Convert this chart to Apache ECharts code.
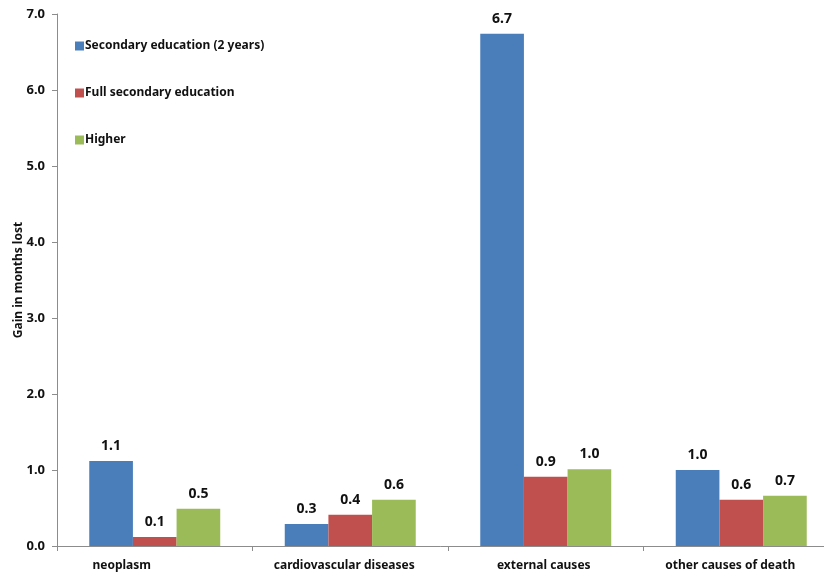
<!DOCTYPE html>
<html>
<head>
<meta charset="utf-8">
<style>
  html, body { margin: 0; padding: 0; background: #fff; }
  #chart { width: 824px; height: 572px; }
</style>
<script src="https://cdn.jsdelivr.net/npm/echarts@6/dist/echarts.min.js"></script>
</head>
<body>
<div id="chart"></div>
<script>
// Causes of death on the category axis
const categories = ['neoplasm', 'cardiovascular diseases', 'external causes', 'other causes of death'];

// Gain in months of life lost, by education level
const seriesNames = ['Secondary education (2 years)', 'Full secondary education', 'Higher'];
const secondary2y = [1.12, 0.29, 6.74, 1.00];
const fullSecondary = [0.12, 0.41, 0.91, 0.61];
const higher = [0.49, 0.61, 1.01, 0.66];

// leftward nudge (px) of each category label from its band centre
const labelNudge = [33, 6, 2, 11];

const colors = ['#4a7ebb', '#c0504d', '#9bbb59'];
const FONT = '"Noto Sans", "Liberation Sans", sans-serif';
const textColor = '#111';

const chart = echarts.init(document.getElementById('chart'), null, { renderer: 'canvas' });

function barSeries(name, data, color) {
  return {
    name: name,
    type: 'bar',
    data: data,
    barGap: '0%',
    barCategoryGap: '33%',
    itemStyle: { color: color },
    label: {
      show: true,
      position: 'top',
      distance: 8,
      fontFamily: FONT,
      fontWeight: 'bold',
      fontSize: 14,
      color: textColor,
      formatter: p => p.value.toFixed(1)
    }
  };
}

chart.setOption({
  animation: false,
  color: colors,
  // the category band runs past the right edge of the canvas
  grid: { left: 57, width: 782, top: 14, bottom: 26, containLabel: false, outerBoundsMode: 'none' },
  legend: {
    orient: 'vertical',
    left: 70,
    top: 35,
    itemWidth: 9,
    itemHeight: 9,
    itemGap: 35,
    icon: 'rect',
    textStyle: { fontFamily: FONT, fontWeight: 'bold', fontSize: 12, color: textColor, padding: [0, 0, 0, -4] },
    data: seriesNames
  },
  xAxis: {
    type: 'category',
    data: categories.map((c, i) => ({
      value: c,
      textStyle: { padding: [0, 2 * labelNudge[i], 0, 0] }
    })),
    axisLine: { lineStyle: { color: '#8c8c8c', width: 1 } },
    axisTick: { show: true, alignWithLabel: false, length: 5, lineStyle: { color: '#8c8c8c' } },
    axisLabel: { fontFamily: FONT, fontWeight: 'bold', fontSize: 12, color: textColor, margin: 14, interval: 0 }
  },
  yAxis: {
    type: 'value',
    min: 0,
    max: 7,
    interval: 1,
    name: 'Gain in months lost',
    nameLocation: 'middle',
    nameGap: 32,
    nameMoveOverlap: false,
    nameTextStyle: { fontFamily: FONT, fontWeight: 'bold', fontSize: 12, color: textColor },
    axisLine: { show: true, lineStyle: { color: '#8c8c8c', width: 1 } },
    axisTick: { show: true, length: 5, lineStyle: { color: '#8c8c8c' } },
    splitLine: { show: false },
    axisLabel: {
      fontFamily: FONT, fontWeight: 'bold', fontSize: 13, color: textColor, margin: 12,
      formatter: v => v.toFixed(1)
    }
  },
  series: [
    barSeries(seriesNames[0], secondary2y, colors[0]),
    barSeries(seriesNames[1], fullSecondary, colors[1]),
    barSeries(seriesNames[2], higher, colors[2])
  ]
});
</script>
</body>
</html>
